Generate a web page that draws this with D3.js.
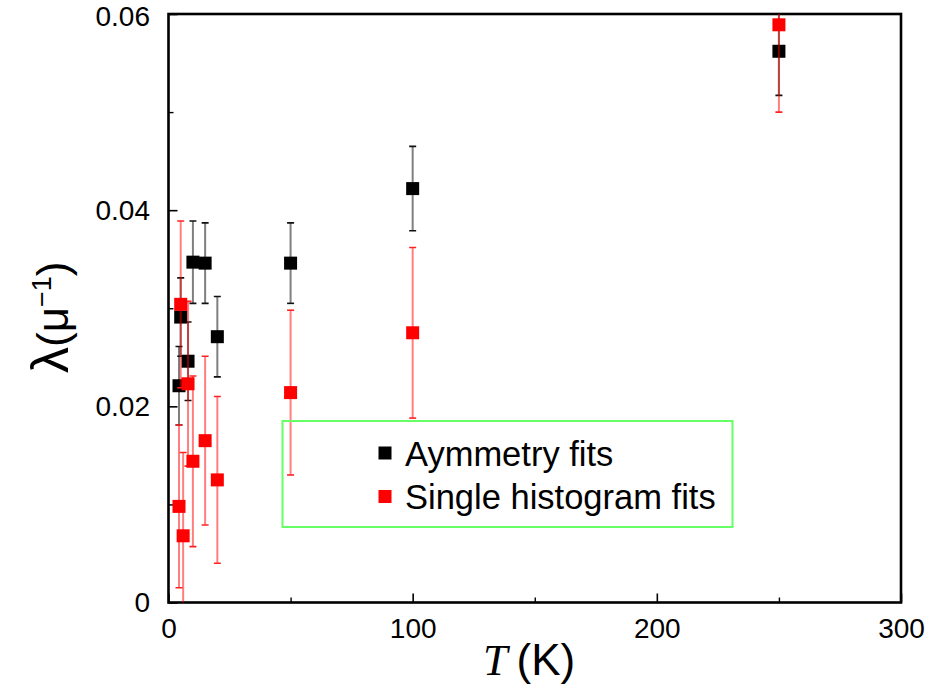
<!DOCTYPE html>
<html>
<head>
<meta charset="utf-8">
<script src="https://cdn.jsdelivr.net/npm/d3@7"></script>
<style>
  html, body { margin: 0; padding: 0; background: #fff; }
  svg { display: block; }
  text { font-family: "Liberation Sans", Arial, Helvetica, sans-serif; fill: #000; }
</style>
</head>
<body>
<svg id="chart" width="930" height="696"></svg>
<script>
// Muon relaxation rate versus temperature, two fitting methods
const tempsAsym   = [4.3, 5, 8, 10, 15, 20, 50, 100, 250];
const lambdaAsym  = [0.0221, 0.0291, 0.0246, 0.0347, 0.0346, 0.0271, 0.0346, 0.0422, 0.0562];
const errAsym     = [0.0040, 0.0040, 0.0040, 0.0042, 0.0041, 0.0041, 0.0041, 0.0043, 0.0045];

const tempsSingle  = [4.3, 5, 6, 8, 10, 15, 20, 50, 100, 250];
const lambdaSingle = [0.0098, 0.0304, 0.0068, 0.0223, 0.0144, 0.0165, 0.0125, 0.0214, 0.0275, 0.0589];
const errSingle    = [0.0083, 0.0085, 0.0085, 0.0084, 0.0087, 0.0086, 0.0085, 0.0084, 0.0087, 0.0089];

const xMajorTicks = [0, 100, 200, 300];
const xMinorTicks = [50, 150, 250];
const yMajorTicks = [0, 0.02, 0.04, 0.06];
const yMinorTicks = [0.01, 0.03, 0.05];
const yTickLabels = ["0", "0.02", "0.04", "0.06"];

const seriesNames = ["Aymmetry fits", "Single histogram fits"];

const svg = d3.select("#chart");
const plotL = 168.5, plotR = 901, plotT = 14, plotB = 602.5;

const x = d3.scaleLinear().domain([0, 300]).range([plotL, plotR]);
const y = d3.scaleLinear().domain([0, 0.06]).range([plotB, plotT]);

svg.append("defs").append("clipPath").attr("id", "plotClip")
  .append("rect").attr("x", plotL).attr("y", plotT)
  .attr("width", plotR - plotL).attr("height", plotB - plotT);

// axes: ticks point inward
const xAxis = d3.axisBottom(x).tickValues(xMajorTicks).tickFormat(d3.format("d"))
  .tickSize(-9).tickPadding(15.5);
const gx = svg.append("g").attr("transform", `translate(0,${plotB})`).call(xAxis);
gx.select(".domain").remove();
gx.selectAll("line").attr("stroke", "#000").attr("stroke-width", 1.6);
gx.selectAll("text").style("font-size", "28px");

const gxm = svg.append("g").attr("transform", `translate(0,${plotB})`)
  .call(d3.axisBottom(x).tickValues(xMinorTicks).tickFormat("").tickSize(-5));
gxm.select(".domain").remove();
gxm.selectAll("line").attr("stroke", "#000").attr("stroke-width", 1.4);

const yAxis = d3.axisLeft(y).tickValues(yMajorTicks)
  .tickFormat((d, i) => yTickLabels[i]).tickSize(-9).tickPadding(18.5);
const gy = svg.append("g").attr("transform", `translate(${plotL},0)`).call(yAxis);
gy.select(".domain").remove();
gy.selectAll("line").attr("stroke", "#000").attr("stroke-width", 1.6);
gy.selectAll("text").style("font-size", "28px");
gy.selectAll(".tick text").attr("dy", d => d === 0.06 ? "0.4em" : "0.32em");

const gym = svg.append("g").attr("transform", `translate(${plotL},0)`)
  .call(d3.axisLeft(y).tickValues(yMinorTicks).tickFormat("").tickSize(-5));
gym.select(".domain").remove();
gym.selectAll("line").attr("stroke", "#000").attr("stroke-width", 1.4);

// frame
svg.append("rect").attr("x", plotL).attr("y", plotT)
  .attr("width", plotR - plotL).attr("height", plotB - plotT)
  .attr("fill", "none").attr("stroke", "#000").attr("stroke-width", 2.6);

// data series
function drawSeries(temps, vals, errs, stemColor, capColor, fill) {
  const pts = temps.map((t, i) => ({ t, v: vals[i], e: errs[i] }));
  const g = svg.append("g").attr("clip-path", "url(#plotClip)");
  const eb = g.selectAll("g.eb").data(pts).join("g").attr("class", "eb");
  eb.append("line")
    .attr("x1", d => x(d.t)).attr("x2", d => x(d.t))
    .attr("y1", d => y(d.v - d.e)).attr("y2", d => y(d.v + d.e))
    .attr("stroke", stemColor).attr("stroke-width", 2);
  [-1, 1].forEach(s => {
    eb.append("line")
      .attr("x1", d => x(d.t) - 3.5).attr("x2", d => x(d.t) + 3.5)
      .attr("y1", d => y(d.v + s * d.e)).attr("y2", d => y(d.v + s * d.e))
      .attr("stroke", capColor).attr("stroke-width", 1.6);
  });
  g.selectAll("rect.pt").data(pts).join("rect").attr("class", "pt")
    .attr("x", d => x(d.t) - 6.5).attr("y", d => y(d.v) - 6.5)
    .attr("width", 13).attr("height", 13).attr("fill", fill);
}
drawSeries(tempsAsym, lambdaAsym, errAsym, "rgba(0,0,0,0.5)", "#111", "#000");
drawSeries(tempsSingle, lambdaSingle, errSingle, "rgba(255,0,0,0.5)", "#f22", "#f00");

// legend
svg.append("rect").attr("x", 282.5).attr("y", 421).attr("width", 450).attr("height", 106)
  .attr("fill", "none").attr("stroke", "#66ff66").attr("stroke-width", 2);
const legendColors = ["#000", "#f00"];
seriesNames.forEach((name, i) => {
  const cy = 453 + i * 43.5;
  svg.append("rect").attr("x", 378.5).attr("y", cy - 6.5).attr("width", 13).attr("height", 13)
    .attr("fill", legendColors[i]);
  svg.append("text").attr("x", 405).attr("y", cy + 12.5).style("font-size", "34.5px").text(name);
});

// axis titles
const xt = svg.append("text").attr("x", 483).attr("y", 675);
xt.append("tspan").style("font-family", "'Liberation Serif', 'Times New Roman', serif")
  .style("font-style", "italic").style("font-size", "44px").text("T");
xt.append("tspan").attr("dx", 9).style("font-size", "44px").text("(K)");

const yt = svg.append("text").attr("transform", "translate(68,373) rotate(-90)")
  .style("font-size", "44px");
yt.append("tspan").style("font-size", "52px").text("λ");
yt.append("tspan").text("(μ");
yt.append("tspan").attr("dy", -17).style("font-size", "27px").text("−1");
yt.append("tspan").attr("dy", 17).text(")");
</script>
</body>
</html>
